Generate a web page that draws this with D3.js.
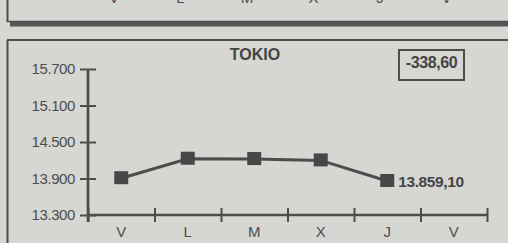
<!DOCTYPE html>
<html>
<head>
<meta charset="utf-8">
<script src="https://cdn.jsdelivr.net/npm/d3@7"></script>
<style>
  body { margin: 0; background: #d6d6d2; }
  svg { display: block; font-family: "Liberation Sans", Arial, sans-serif; }
</style>
</head>
<body>
<script>
const width = 508;
const height = 243;

const days = ["V", "L", "M", "X", "J", "V"];
const closes = [13905, 14225, 14220, 14197.7, 13859.1];
const yTicks = [13300, 13900, 14500, 15100, 15700];
const title = "TOKIO";
const lastLabel = "13.859,10";
const change = "-338,60";

const ink = "#4d4d4d";
const plotLeft = 88, plotRight = 487, plotTop = 69, plotBottom = 215;

const svg = d3.select("body").append("svg")
    .attr("width", width).attr("height", height);

svg.append("rect").attr("width", width).attr("height", height).attr("fill", "#d6d6d2");

// bottom of the panel above (its day labels are cut by the top edge)
svg.append("g").selectAll("text").data(days).enter().append("text")
    .attr("x", (d, i) => 114 + i * 66.5).attr("y", 3)
    .attr("text-anchor", "middle").attr("fill", ink).attr("font-size", 15)
    .text(d => d);
svg.append("line").attr("x1", 7.5).attr("x2", 7.5).attr("y1", 0).attr("y2", 22)
    .attr("stroke", ink).attr("stroke-width", 2);
svg.append("line").attr("x1", 7).attr("x2", width).attr("y1", 21.5).attr("y2", 21.5)
    .attr("stroke", ink).attr("stroke-width", 1.5);
svg.append("rect").attr("x", 10).attr("y", 22).attr("width", width - 10).attr("height", 4.5)
    .attr("fill", "#555");

// current panel frame
svg.append("line").attr("x1", 7).attr("x2", width).attr("y1", 40).attr("y2", 40)
    .attr("stroke", ink).attr("stroke-width", 2);
svg.append("line").attr("x1", 7.5).attr("x2", 7.5).attr("y1", 40).attr("y2", height)
    .attr("stroke", ink).attr("stroke-width", 2);

const x = d3.scaleLinear().domain([0, days.length]).range([plotLeft, plotRight]);
const y = d3.scaleLinear().domain([13300, 15700]).range([plotBottom, plotTop]);

// y axis
const yAxis = d3.axisLeft(y).tickValues(yTicks).tickSize(8).tickPadding(5)
    .tickFormat(d => d3.format(",")(d).replace(/,/g, "."));
const gy = svg.append("g").attr("transform", `translate(${plotLeft},0)`).call(yAxis);
gy.select(".domain").remove();
gy.selectAll(".tick line").attr("x1", 8).attr("stroke", ink).attr("stroke-width", 2);
gy.selectAll(".tick text").attr("fill", ink).attr("font-size", 15)
    .attr("font-family", "Liberation Sans, Arial, sans-serif").attr("letter-spacing", -0.4);
svg.append("line").attr("x1", plotLeft).attr("x2", plotLeft).attr("y1", plotTop).attr("y2", plotBottom + 7)
    .attr("stroke", ink).attr("stroke-width", 2.7);

// x axis
const xAxis = d3.axisBottom(x).tickValues(d3.range(days.length + 1)).tickSize(7).tickFormat("");
const gx = svg.append("g").attr("transform", `translate(0,${plotBottom})`).call(xAxis);
gx.select(".domain").remove();
gx.selectAll(".tick line").attr("y1", -7).attr("stroke", ink).attr("stroke-width", 2);
svg.append("line").attr("x1", plotLeft).attr("x2", plotRight).attr("y1", plotBottom).attr("y2", plotBottom)
    .attr("stroke", ink).attr("stroke-width", 2.7);
svg.append("g").selectAll("text").data(days).enter().append("text")
    .attr("x", (d, i) => x(i + 0.5)).attr("y", plotBottom + 22)
    .attr("text-anchor", "middle").attr("fill", ink).attr("font-size", 15)
    .text(d => d);

// line and markers
const line = d3.line().x((d, i) => x(i + 0.5)).y(d => y(d));
svg.append("path").datum(closes).attr("d", line)
    .attr("fill", "none").attr("stroke", ink).attr("stroke-width", 3);
svg.selectAll("rect.pt").data(closes).enter().append("rect").attr("class", "pt")
    .attr("x", (d, i) => x(i + 0.5) - 7).attr("y", d => y(d) - 7)
    .attr("width", 14).attr("height", 13).attr("fill", "#474747");

svg.append("text").attr("x", x(closes.length - 0.5) + 11).attr("y", y(closes[closes.length - 1]) + 6)
    .attr("fill", "#444").attr("font-size", 15.5).attr("font-weight", "bold").attr("letter-spacing", -0.4)
    .text(lastLabel);

// title and change box
svg.append("text").attr("x", 255).attr("y", 60).attr("text-anchor", "middle")
    .attr("fill", "#444").attr("font-size", 16).attr("font-weight", "bold").text(title);
svg.append("rect").attr("x", 399).attr("y", 50).attr("width", 65).attr("height", 30)
    .attr("fill", "none").attr("stroke", ink).attr("stroke-width", 2);
svg.append("text").attr("x", 431.5).attr("y", 68).attr("text-anchor", "middle")
    .attr("fill", "#444").attr("font-size", 16).attr("font-weight", "bold").attr("letter-spacing", -0.4)
    .text(change);
</script>
</body>
</html>
